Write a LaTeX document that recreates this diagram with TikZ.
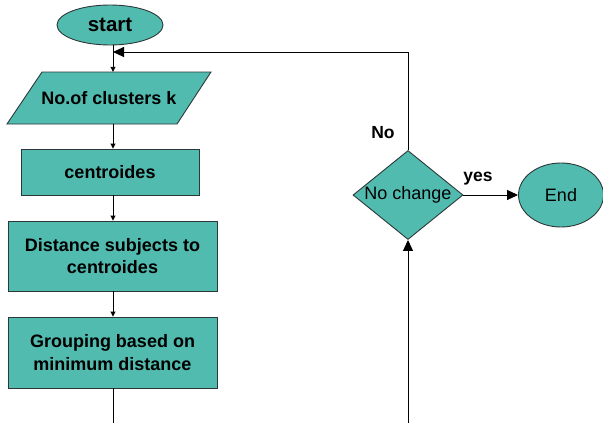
\documentclass[tikz,border=0pt]{standalone}
\usepackage{fontspec}
\setmainfont{Liberation Sans}
\usetikzlibrary{shapes.geometric,arrows.meta}
\definecolor{teal1}{RGB}{82,187,176}
\definecolor{edge1}{RGB}{45,55,55}
\tikzset{
  box/.style={draw=edge1, fill=teal1, line width=0.9pt, rectangle, inner sep=0pt, align=center,
              font=\fontsize{18}{22.7}\selectfont\bfseries},
  term/.style={draw=edge1, fill=teal1, line width=0.9pt, ellipse, inner sep=0pt},
  decision/.style={draw=edge1, fill=teal1, line width=0.9pt, diamond, inner sep=0pt, aspect=1.236,
              minimum width=110pt, minimum height=89pt},
  conn/.style={draw=black, line width=0.9pt},
  small/.style={conn, -{Triangle[width=5pt,length=5pt]}},
  big/.style={conn, -{Triangle[width=10pt,length=11pt]}},
  lbl/.style={font=\fontsize{17.5}{20}\selectfont\bfseries, inner sep=0pt},
}
\begin{document}
\begin{tikzpicture}[x=1pt,y=-1pt]
\useasboundingbox (0,0) rectangle (603,423);
% start
\node[term, minimum width=106pt, minimum height=40pt, font=\fontsize{20.5}{24}\selectfont\bfseries] (start) at (110,25) {start};
% parallelogram
\draw[draw=edge1, fill=teal1, line width=0.9pt] (42,72) -- (211,72) -- (177,124) -- (7,124) -- cycle;
\node[rectangle, inner sep=0pt, minimum width=170pt, minimum height=52pt, font=\fontsize{18}{22.7}\selectfont\bfseries] (clusters) at (109,98) {No.of clusters k};
% boxes
\node[box, minimum width=178pt, minimum height=46pt] (centroides) at (110,172) {centroides};
\node[box, minimum width=209pt, minimum height=70pt] (distance) at (112.5,256) {Distance subjects to\\centroides};
\node[box, minimum width=209pt, minimum height=71pt] (grouping) at (112.5,352.5) {Grouping based on\\minimum distance};
% decision
\node[decision] (dia) at (408,195) {};
\node[font=\fontsize{18}{22}\selectfont, inner sep=0pt] (diatext) at (408,195) {No change};
% end
\node[term, minimum width=85pt, minimum height=64pt, font=\fontsize{18}{22}\selectfont] (end) at (561,195) {End};
% coordinates
\coordinate (spine) at (113,0);
\coordinate (fb) at (113,52);
\coordinate (bottomL) at (113,423);
\coordinate (bottomR) at (408,423);
% connectors
\draw[small] (start.south -| spine) -- (clusters.north -| spine);
\draw[small] (clusters.south -| spine) -- (centroides.north -| spine);
\draw[small] (centroides.south -| spine) -- (distance.north -| spine);
\draw[small] (distance.south -| spine) -- (grouping.north -| spine);
\draw[conn] (grouping.south -| spine) -- (bottomL);
\draw[big] (bottomR) -- (dia.south);
\draw[big] (dia.north) |- (fb);
\draw[big] (dia.east) -- (end.west);
% labels
\node[lbl] (yes) at (478,179) {yes};
\node[lbl] (no) at (383,133) {No};
\end{tikzpicture}
\end{document}
